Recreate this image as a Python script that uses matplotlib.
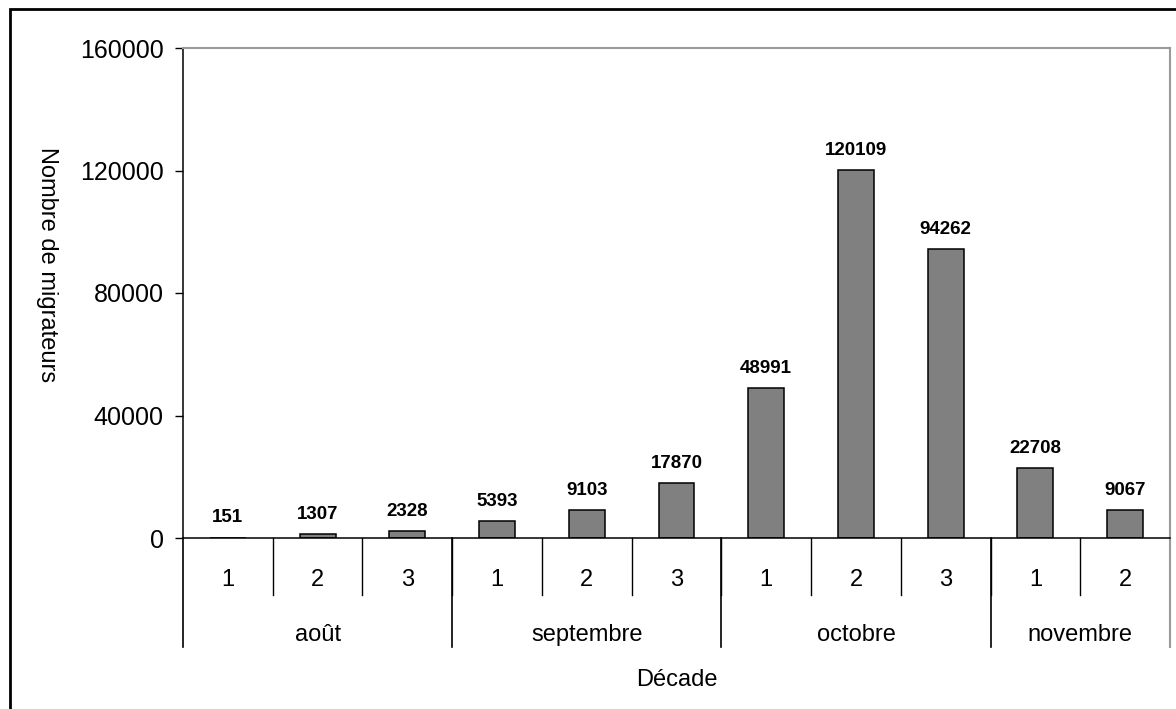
import matplotlib.pyplot as plt
from matplotlib.patches import Rectangle

plt.rcParams['font.family'] = ['Liberation Sans', 'DejaVu Sans']

# data
months = ['août', 'septembre', 'octobre', 'novembre']
decades_per_month = [3, 3, 3, 2]
decade_labels = ['1', '2', '3', '1', '2', '3', '1', '2', '3', '1', '2']
migrants = [151, 1307, 2328, 5393, 9103, 17870, 48991, 120109, 94262, 22708, 9067]
yticks = [0, 40000, 80000, 120000, 160000]

fig = plt.figure(figsize=(11.76, 7.09), dpi=100)
ax = fig.add_axes([183/1176, 1-538/709, 987/1176, 490/709])

x = list(range(len(migrants)))
bars = ax.bar(x, migrants, width=0.4, color='#808080', edgecolor='black', linewidth=1.1)
for xi, v in zip(x, migrants):
    ax.annotate(str(v), (xi, v), xytext=(0, 8), textcoords='offset points',
                ha='center', va='bottom', fontsize=13.5, fontweight='bold')

ax.set_xlim(-0.5, len(migrants) - 0.5)
ax.set_ylim(0, 160000)
ax.set_yticks(yticks)
ax.set_yticklabels([str(t) for t in yticks])
ax.tick_params(axis='y', labelsize=18, length=6, width=1, pad=8)
ax.set_xticks([])

for s in ['top', 'right']:
    ax.spines[s].set_color('#9a9a9a')
    ax.spines[s].set_linewidth(1.5)
ax.spines['left'].set_linewidth(1.1)
ax.spines['bottom'].set_linewidth(1.1)

# hierarchical category axis
tr = ax.get_xaxis_transform()
lvl1 = -57/490
lvl2 = -109/490
for i in range(1, len(migrants)):
    ax.plot([i - 0.5, i - 0.5], [0, lvl1], color='black', lw=1, transform=tr, clip_on=False)
for xi, lab in zip(x, decade_labels):
    ax.text(xi, -42/490, lab, transform=tr, ha='center', va='center', fontsize=17)

start = 0
bounds = [-0.5]
for m, n in zip(months, decades_per_month):
    center = start + (n - 1) / 2
    ax.text(center, -97/490, m, transform=tr, ha='center', va='center', fontsize=17)
    start += n
    bounds.append(start - 0.5)
for b in bounds:
    last = b == bounds[-1]
    ax.plot([b, b], [0, lvl2], color='#9a9a9a' if last else 'black',
            lw=1.5 if last else 1.2, transform=tr, clip_on=False)

fig.text(677/1176, 1-680/709, 'Décade', ha='center', va='center', fontsize=17)
fig.text(47/1176, 1-265/709, 'Nombre de migrateurs', ha='center', va='center',
         fontsize=17, rotation=270)

# outer frame (cut by the image edge on the right and bottom)
fig.patches.append(Rectangle((10/1176, -0.1), 1.2, 1.1 - 9/709, transform=fig.transFigure,
                             fill=False, edgecolor='black', linewidth=2))

fig.savefig('out.png', dpi=100)
